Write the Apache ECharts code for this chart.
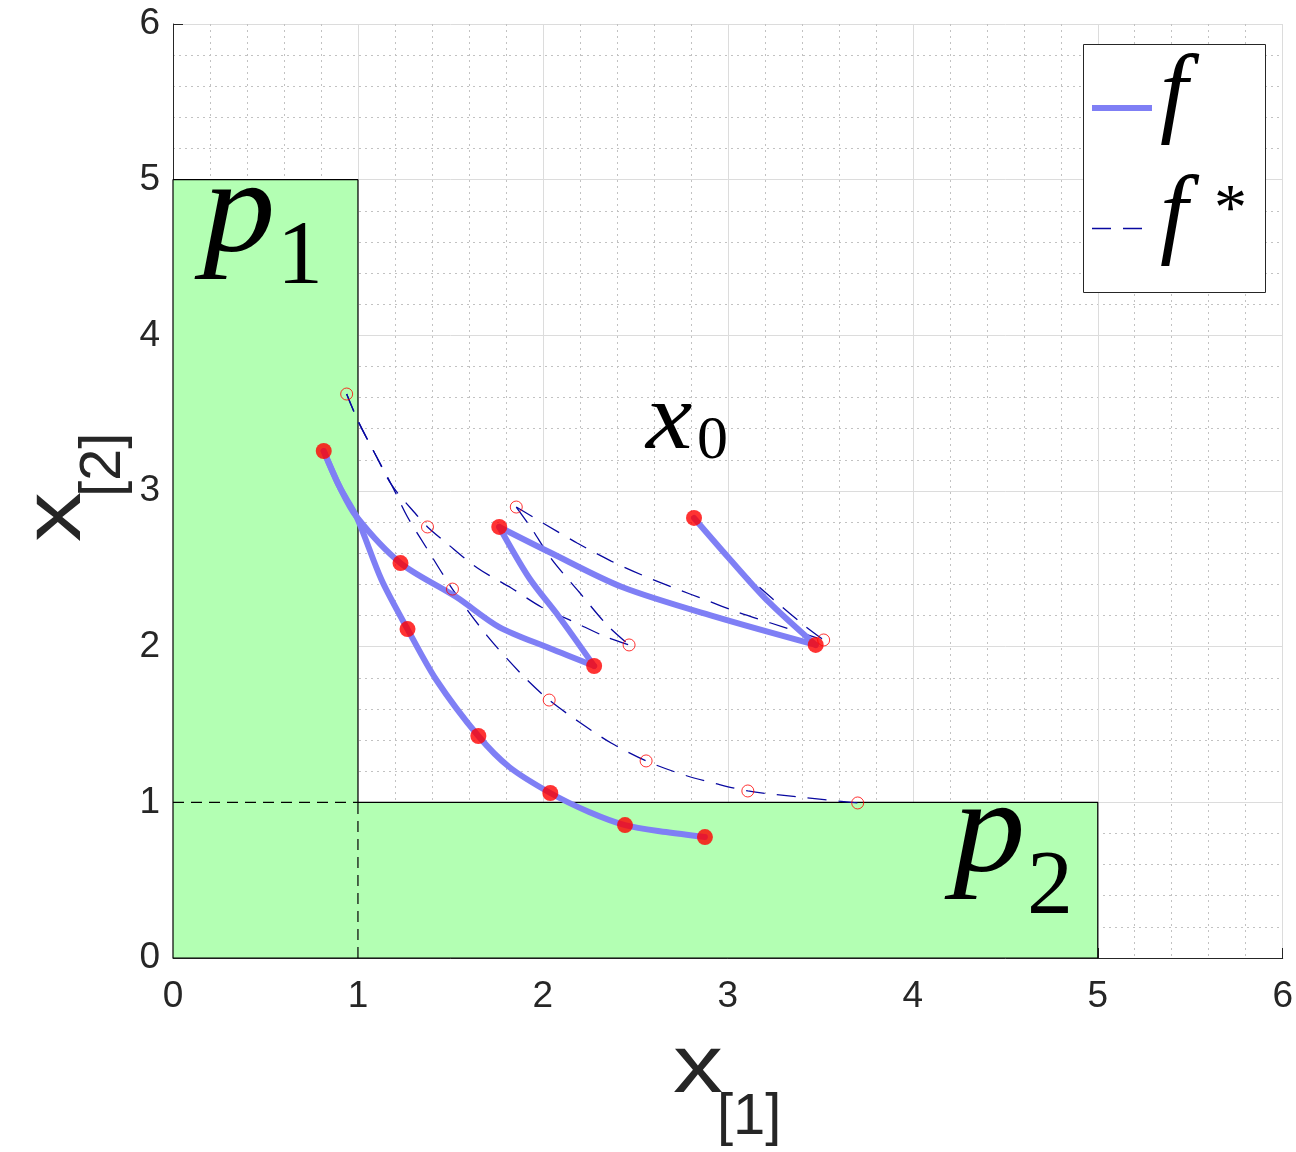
<!DOCTYPE html>
<html>
<head>
<meta charset="utf-8">
<script src="https://cdn.jsdelivr.net/npm/echarts@6/dist/echarts.min.js"></script>
<style>html,body{margin:0;padding:0;background:#fff;}#chart{width:1296px;height:1152px;}</style>
</head>
<body>
<div id="chart"></div>
<script>
// ---------- data ----------
const xTicks = [0, 1, 2, 3, 4, 5, 6];
const yTicks = [0, 1, 2, 3, 4, 5, 6];

// regions [xmin, ymin, xmax, ymax]
const regionP1 = [0, 0, 1, 5];
const regionP2 = [0, 0, 5, 1];

// f trajectories (thick solid)
const fPathA = [[0.815,3.257],[0.901,3.026],[0.993,2.833],[1.230,2.537],[1.532,2.319],[1.764,2.126],[2.034,1.991],[2.277,1.876]];
const fPathB = [[0.815,3.257],[0.901,3.026],[0.993,2.833],[1.128,2.428],[1.268,2.113],[1.424,1.786],[1.651,1.426],[1.818,1.227],[2.040,1.060],[2.250,0.938],[2.444,0.854],[2.666,0.809],[2.876,0.777]];
const fPathC = [[1.764,2.769],[1.926,2.441],[2.088,2.191],[2.277,1.876]];
const fPathD = [[1.764,2.769],[2.034,2.608],[2.428,2.383],[2.935,2.191],[3.475,2.011]];
const fPathE = [[2.817,2.827],[3.005,2.570],[3.221,2.287],[3.475,2.011]];
const fPoints = [[0.815,3.257],[1.230,2.537],[2.277,1.876],[1.268,2.113],[1.651,1.426],[2.040,1.060],[2.444,0.854],[2.876,0.777],[1.764,2.769],[2.817,2.827],[3.475,2.011]];

// f* trajectories (thin dashed)
const fsPathA = [[0.939,3.623],[0.998,3.456],[1.090,3.244],[1.182,3.039],[1.317,2.846],[1.376,2.769],[1.478,2.666],[1.646,2.505],[1.829,2.377],[1.991,2.255],[2.169,2.158],[2.342,2.062],[2.466,2.011]];
const fsPathB = [[0.939,3.623],[0.998,3.456],[1.090,3.244],[1.182,3.039],[1.268,2.833],[1.371,2.634],[1.511,2.370],[1.700,2.068],[1.899,1.805],[2.034,1.657],[2.196,1.516],[2.369,1.381],[2.558,1.266],[2.763,1.176],[2.941,1.118],[3.108,1.073],[3.383,1.034],[3.702,0.996]];
const fsPathC = [[1.856,2.897],[1.937,2.762],[2.050,2.557],[2.196,2.351],[2.347,2.139],[2.466,2.011]];
const fsPathD = [[1.856,2.897],[2.018,2.782],[2.185,2.666],[2.369,2.550],[2.536,2.460],[2.709,2.377],[2.881,2.300],[3.049,2.223],[3.232,2.152],[3.518,2.043]];
const fsPathE = [[2.825,2.815],[3.059,2.505],[3.237,2.313],[3.410,2.139],[3.518,2.043]];
const fsPoints = [[0.939,3.623],[1.376,2.769],[1.511,2.370],[1.856,2.897],[2.466,2.011],[2.034,1.657],[2.558,1.266],[3.108,1.073],[3.702,0.996],[3.518,2.043]];

// ---------- build ----------
const F_COLOR = '#7f7ff5';
const FS_COLOR = '#0808a0';
const GREEN = '#b3ffb3';

const outline = [
  [regionP1[0], regionP1[1]], [regionP1[0], regionP1[3]], [regionP1[2], regionP1[3]],
  [regionP1[2], regionP2[3]], [regionP2[2], regionP2[3]], [regionP2[2], regionP2[1]],
  [regionP1[0], regionP1[1]]
];
const overlapH = [[regionP2[0], regionP2[3]], [regionP1[2], regionP2[3]]];
const overlapV = [[regionP1[2], regionP1[1]], [regionP1[2], regionP2[3]]];

function fLine(data) {
  return { type: 'line', data: data, symbol: 'none', smooth: 0.3, z: 5,
    lineStyle: { color: F_COLOR, width: 6, cap: 'round', join: 'round' }, silent: true };
}
function fsLine(data) {
  return { type: 'line', data: data, symbol: 'none', smooth: 0.3, z: 4,
    lineStyle: { color: FS_COLOR, width: 1.3, type: [19, 12] }, silent: true };
}

const axisCommon = {
  type: 'value', min: 0, max: 6, interval: 1,
  axisLine: { show: true, lineStyle: { color: '#262626', width: 1 } },
  axisTick: { show: true, inside: true, length: 10, lineStyle: { color: '#262626' } },
  axisLabel: { color: '#262626', fontSize: 37, fontFamily: 'Liberation Sans, Arial, sans-serif' },
  splitLine: { show: true, lineStyle: { color: '#dcdcdc', width: 1 } },
  minorTick: { show: false, splitNumber: 5 },
  minorSplitLine: { show: true, lineStyle: { color: '#c2c2c2', width: 1, type: [2, 4] } }
};

const chart = echarts.init(document.getElementById('chart'), null, { renderer: 'canvas' });
const option = {
  animation: false,
  backgroundColor: '#ffffff',
  grid: { left: 173, right: 11, top: 24, bottom: 194, containLabel: false },
  xAxis: Object.assign({}, axisCommon, {
    axisLabel: Object.assign({}, axisCommon.axisLabel, { margin: 20, formatter: v => xTicks.includes(v) ? String(v) : '' })
  }),
  yAxis: Object.assign({}, axisCommon, {
    axisLabel: Object.assign({}, axisCommon.axisLabel, { margin: 13, formatter: v => yTicks.includes(v) ? String(v) : '' })
  }),
  series: [
    {
      type: 'custom', z: 1, silent: true,
      data: [regionP1, regionP2],
      encode: { x: [0, 2], y: [1, 3] },
      renderItem: function (params, api) {
        const a = api.coord([api.value(0), api.value(1)]);
        const b = api.coord([api.value(2), api.value(3)]);
        return { type: 'rect', shape: { x: a[0], y: b[1], width: b[0] - a[0], height: a[1] - b[1] },
          style: { fill: GREEN, stroke: null } };
      }
    },
    { type: 'line', data: outline, symbol: 'none', z: 2, silent: true,
      lineStyle: { color: '#000000', width: 1.2 } },
    { type: 'line', data: overlapH, symbol: 'none', z: 2, silent: true,
      lineStyle: { color: '#000000', width: 1.2, type: [11, 7] } },
    { type: 'line', data: overlapV, symbol: 'none', z: 2, silent: true,
      lineStyle: { color: '#000000', width: 1.2, type: [11, 7] } },
    fsLine(fsPathA), fsLine(fsPathB), fsLine(fsPathC), fsLine(fsPathD), fsLine(fsPathE),
    fLine(fPathA), fLine(fPathB), fLine(fPathC), fLine(fPathD), fLine(fPathE),
    { type: 'scatter', data: fsPoints, symbol: 'circle', symbolSize: 12, z: 6, silent: true,
      itemStyle: { color: 'rgba(0,0,0,0)', borderColor: '#ff0000', borderWidth: 1 } },
    { type: 'scatter', data: fPoints, symbol: 'circle', symbolSize: 16, z: 7, silent: true,
      itemStyle: { color: '#ff0000' } }
  ],
  graphic: [
    // axis titles
    { type: 'text', x: 698, y: 1069, scaleX: 1.22, style: { text: 'x', font: '82px "Liberation Sans", Arial, sans-serif', fill: '#262626', align: 'center', verticalAlign: 'middle' } },
    { type: 'text', x: 717, y: 1118, style: { text: '[1]', font: '58px "Liberation Sans", Arial, sans-serif', fill: '#262626', align: 'left', verticalAlign: 'middle' } },
    { type: 'text', x: 57, y: 517, rotation: Math.PI / 2, scaleX: 1.22, style: { text: 'x', font: '82px "Liberation Sans", Arial, sans-serif', fill: '#262626', align: 'center', verticalAlign: 'middle' } },
    { type: 'text', x: 104, y: 497, rotation: Math.PI / 2, style: { text: '[2]', font: '58px "Liberation Sans", Arial, sans-serif', fill: '#262626', align: 'left', verticalAlign: 'middle' } },
    // region labels
    { type: 'text', x: 203, y: 216, z: 20, scaleX: 1.08, style: { text: 'p', font: 'italic 134px "Liberation Serif", serif', fill: '#000', align: 'left', verticalAlign: 'middle' } },
    { type: 'text', x: 277, y: 259, z: 20, style: { text: '1', font: '92px "Liberation Serif", serif', fill: '#000', align: 'left', verticalAlign: 'middle' } },
    { type: 'text', x: 953, y: 836, z: 20, scaleX: 1.08, style: { text: 'p', font: 'italic 134px "Liberation Serif", serif', fill: '#000', align: 'left', verticalAlign: 'middle' } },
    { type: 'text', x: 1027, y: 889, z: 20, style: { text: '2', font: '92px "Liberation Serif", serif', fill: '#000', align: 'left', verticalAlign: 'middle' } },
    { type: 'text', x: 646, y: 423, z: 20, scaleX: 1.1, style: { text: 'x', font: 'italic 95px "Liberation Serif", serif', fill: '#000', align: 'left', verticalAlign: 'middle' } },
    { type: 'text', x: 697, y: 442, z: 20, style: { text: '0', font: '62px "Liberation Serif", serif', fill: '#000', align: 'left', verticalAlign: 'middle' } },
    // legend
    { type: 'rect', z: 30, shape: { x: 1083.5, y: 44.5, width: 182, height: 248 }, style: { fill: '#ffffff', stroke: '#262626', lineWidth: 1 } },
    { type: 'line', z: 31, shape: { x1: 1092, y1: 108, x2: 1152, y2: 108 }, style: { stroke: F_COLOR, lineWidth: 6 } },
    { type: 'line', z: 31, shape: { x1: 1092, y1: 228.5, x2: 1143, y2: 228.5 }, style: { stroke: FS_COLOR, lineWidth: 1.6, lineDash: [19, 12] } },
    { type: 'text', x: 1160, y: 98, z: 31, style: { text: 'f', font: 'italic 100px "Liberation Serif", serif', fill: '#000', align: 'left', verticalAlign: 'middle' } },
    { type: 'text', x: 1160, y: 219, z: 31, style: { text: 'f', font: 'italic 100px "Liberation Serif", serif', fill: '#000', align: 'left', verticalAlign: 'middle' } },
    { type: 'text', x: 1214, y: 212, z: 31, style: { text: '*', font: '66px "Liberation Serif", serif', fill: '#000', align: 'left', verticalAlign: 'middle' } }
  ]
};
chart.setOption(option);
</script>
</body>
</html>
